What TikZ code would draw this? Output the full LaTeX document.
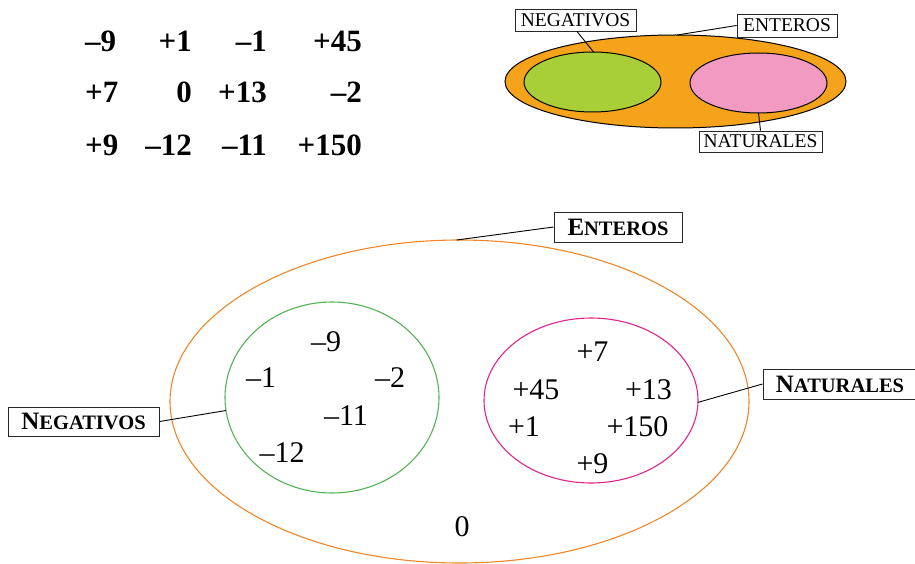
\documentclass[tikz,border=0pt]{standalone}
\usepackage{fontspec}
\setmainfont{Liberation Serif}
\usetikzlibrary{shapes.geometric}
\definecolor{orfill}{RGB}{246,163,28}
\definecolor{grfill}{RGB}{168,207,56}
\definecolor{pkfill}{RGB}{242,154,194}
\definecolor{orline}{RGB}{240,134,40}
\definecolor{grline}{RGB}{84,178,84}
\definecolor{pkline}{RGB}{228,36,140}
\definecolor{boxline}{RGB}{40,40,40}
\newcommand{\fsc}[2]{{\fontsize{25}{25}\selectfont #1}{\fontsize{20.5}{20.5}\selectfont #2}}
\tikzset{
  tabnum/.style={font=\fontsize{31}{31}\selectfont\bfseries, inner sep=0pt},
  setnum/.style={font=\fontsize{30}{30}\selectfont, inner sep=0pt},
  smalllabel/.style={draw=boxline, line width=0.9pt, fill=white, inner sep=0pt, font=\fontsize{19.5}{19.5}\selectfont},
  biglabel/.style={draw=boxline, line width=1pt, fill=white, inner sep=0pt, font=\bfseries},
  setell/.style={ellipse, inner sep=0pt, outer sep=0pt},
  conn/.style={line width=0.9pt, black},
}
\begin{document}
\begin{tikzpicture}[x=1pt,y=-1pt]
\useasboundingbox (0,0) rectangle (915,564);

% ---- table of numbers ----
\node[tabnum, anchor=base west] (t11) at (85,51.5) {–9};
\node[tabnum, anchor=base east] (t12) at (192,51.5) {+1};
\node[tabnum, anchor=base east] (t13) at (267,51.5) {–1};
\node[tabnum, anchor=base east] (t14) at (362,51.5) {+45};
\node[tabnum, anchor=base west] (t21) at (85,103) {+7};
\node[tabnum, anchor=base east] (t22) at (192,103) {0};
\node[tabnum, anchor=base east] (t23) at (267,103) {+13};
\node[tabnum, anchor=base east] (t24) at (362,103) {–2};
\node[tabnum, anchor=base west] (t31) at (85,155.5) {+9};
\node[tabnum, anchor=base east] (t32) at (192,155.5) {–12};
\node[tabnum, anchor=base east] (t33) at (267,155.5) {–11};
\node[tabnum, anchor=base east] (t34) at (362,155.5) {+150};

% ---- small diagram ----
\node[setell, draw=black, line width=1pt, fill=orfill, minimum width=341, minimum height=93] (sE) at (675.5,81.5) {};
\node[setell, draw=black, line width=1pt, fill=grfill, minimum width=137, minimum height=60] (sG) at (592.5,82) {};
\node[setell, draw=black, line width=1pt, fill=pkfill, minimum width=137, minimum height=60] (sP) at (758.5,83) {};
\node[smalllabel, minimum width=121, minimum height=22] (sNeg) at (575.5,20) {NEGATIVOS};
\node[smalllabel, minimum width=100, minimum height=23] (sEnt) at (787,25.5) {ENTEROS};
\node[smalllabel, minimum width=123, minimum height=21] (sNat) at (760.5,141.5) {NATURALES};
\draw[conn] (sNeg.south) ++(1.5,0) coordinate (a1) -- (sG.88);
\draw[conn] (sEnt.west) -- (sE.88);
\draw[conn] (sP.270) -- (sNat.north);

% ---- big diagram ----
\node[setell, draw=orline, line width=1.1pt, minimum width=579, minimum height=323] (bE) at (459.5,401.5) {};
\node[setell, draw=grline, line width=1.1pt, minimum width=214, minimum height=191] (bG) at (332,397.5) {};
\node[setell, draw=pkline, line width=1.1pt, minimum width=214, minimum height=165] (bP) at (591,400.5) {};

\node[biglabel, minimum width=128, minimum height=30] (bEnt) at (618,227) {\fsc{E}{NTEROS}};
\node[biglabel, minimum width=151, minimum height=29] (bNeg) at (83.5,421.5) {\fsc{N}{EGATIVOS}};
\node[biglabel, minimum width=154, minimum height=30] (bNat) at (840,384) {\fsc{N}{ATURALES}};
\draw[conn] (bEnt.west) -- (bE.91);
\draw[conn] (bNeg.east) -- (bG.187);
\draw[conn] (bP.-1) -- (bNat.west);

\node[setnum] (n9) at (326,342) {–9};
\node[setnum] (n1) at (261,378) {–1};
\node[setnum] (n2) at (390,378) {–2};
\node[setnum] (n11) at (346,416) {–11};
\node[setnum] (n12) at (282,453) {–12};

\node[setnum] (p7) at (592.5,352) {+7};
\node[setnum] (p45) at (536,390) {+45};
\node[setnum] (p13) at (648.5,390) {+13};
\node[setnum] (p1) at (524,427) {+1};
\node[setnum] (p150) at (637.5,427) {+150};
\node[setnum] (p9) at (592.5,464) {+9};

\node[setnum] (z0) at (462,527) {0};
\end{tikzpicture}
\end{document}
